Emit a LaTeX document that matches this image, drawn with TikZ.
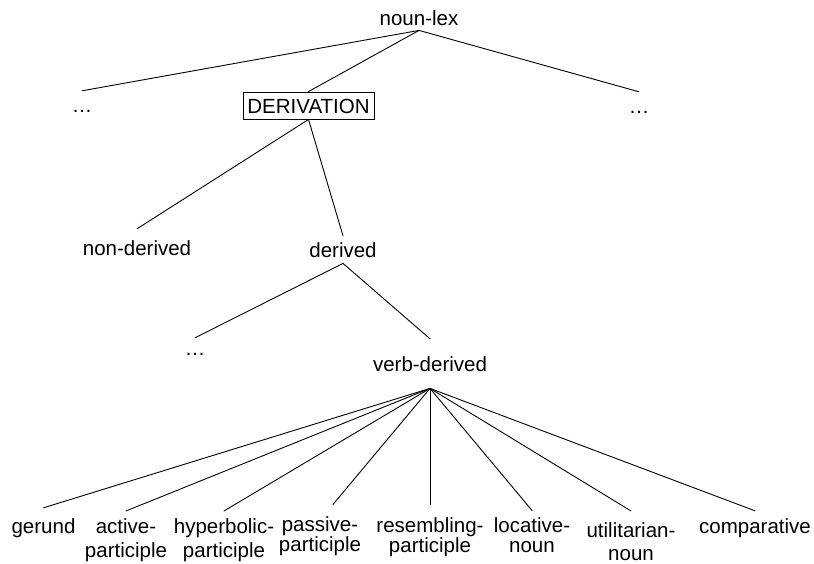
\documentclass[tikz,border=0pt]{standalone}
\usepackage{fontspec}
\setmainfont{Liberation Sans}
\begin{document}
\begin{tikzpicture}[x=1pt,y=-1pt,
  every node/.style={font=\fontsize{20.5}{19.5}\selectfont, inner xsep=0pt},
  lbl/.style={anchor=base, text height=15pt},
  lbltwo/.style={align=center, anchor=base},
  typebox/.style={draw, line width=0.9pt, inner sep=0pt, minimum width=131pt,
    minimum height=27pt, text height=15pt, text depth=0pt},
  link/.style={line width=0.9pt, line cap=round},
  ]
\useasboundingbox (0,0) rectangle (814,563);

% upper part of the hierarchy
\node[lbl, inner ysep=5pt] (nounlex) at (419,25) {noun-lex};
\node[lbl, inner ysep=6pt] (dotsL) at (82,112) {…};
\node[lbl, inner ysep=6pt] (dotsR) at (639,113) {…};
\node[typebox] (deriv) at (308.5,105.5) {DERIVATION};
\node[lbl, inner ysep=11pt] (nonderived) at (137,255) {non-derived};
\node[lbl, inner ysep=6pt] (derived) at (343,257) {derived};
\node[lbl, inner ysep=2pt] (dotsM) at (195,355) {…};
\node[lbl, inner ysep=17pt] (verbderived) at (430,371) {verb-derived};

% subtypes of verb-derived (two-line labels sit on their last baseline)
\node[lbl, inner ysep=10pt] (gerund) at (43.5,533) {gerund};
\node[lbltwo, inner ysep=7pt] (active) at (126,557) {active-\\[4.5pt]participle};
\node[lbltwo, inner ysep=7pt] (hyper) at (224,557) {hyperbolic-\\[4.5pt]participle};
\node[lbltwo, inner ysep=12pt] (passive) at (320,551) {passive-\\participle};
\node[lbltwo, inner ysep=13pt] (resembl) at (430,552) {resembling-\\participle};
\node[lbltwo, inner ysep=7pt] (locative) at (532,552) {locative-\\noun};
\node[lbltwo, inner ysep=11pt] (utilit) at (631,560) {utilitarian-\\[3.5pt]noun};
\node[lbl, inner ysep=7pt] (compar) at (755,533) {comparative};

% connectors
\draw[link] (nounlex.south) -- (dotsL.north);
\draw[link] (nounlex.south) -- (deriv.north);
\draw[link] (nounlex.south) -- (dotsR.north);
\draw[link] (deriv.south) -- (nonderived.north);
\draw[link] (deriv.south) -- (derived.north);
\draw[link] (derived.south) -- (dotsM.north);
\draw[link] (derived.south) -- (verbderived.north);
\foreach \c in {gerund,active,hyper,resembl,locative,utilit,compar}
  \draw[link] (verbderived.south) -- (\c.north);
\draw[link] (verbderived.south) -- ([xshift=13pt]passive.north);
\end{tikzpicture}
\end{document}
